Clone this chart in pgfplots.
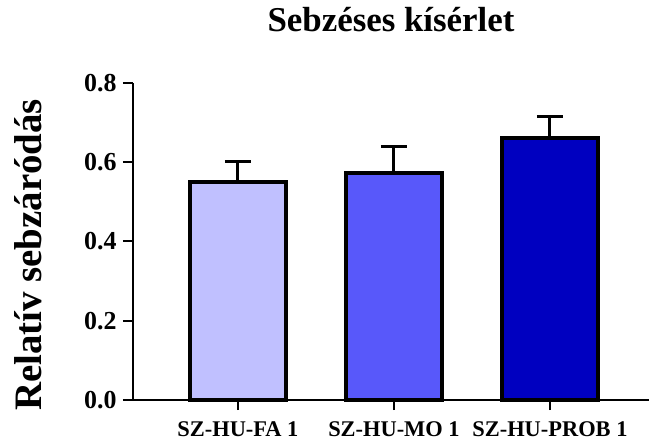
\documentclass[border=0pt]{standalone}
\usepackage{fontspec}
\setmainfont{Liberation Serif}
\usepackage{pgfplots}
\pgfplotsset{compat=1.18}

\definecolor{barlight}{RGB}{192,192,255}
\definecolor{barmid}{RGB}{88,88,250}
\definecolor{bardark}{RGB}{0,0,192}

\begin{document}
\begin{tikzpicture}
\begin{axis}[
    scale only axis,
    width=516bp, height=317.3bp,
    xmin=-0.673, xmax=2.635,
    ymin=0, ymax=0.8,
    axis lines*=left,
    axis line style={line width=2bp, black},
    tick align=outside,
    major tick length=10bp,
    tick style={line width=2bp, black},
    xtick={0,1,2},
    xticklabels={SZ-HU-FA 1, SZ-HU-MO 1, SZ-HU-PROB 1},
    ytick={0,0.2,0.4,0.6,0.8},
    yticklabels={0.0,0.2,0.4,0.6,0.8},
    xticklabel style={font=\fontsize{22.5}{24}\selectfont\bfseries, anchor=base, yshift=-26bp},
    yticklabel style={font=\fontsize{26}{28}\selectfont\bfseries, xshift=-3bp},
    title={Sebzéses kísérlet},
    title style={font=\fontsize{35}{40}\selectfont\bfseries, at={(axis description cs:0.5,1)}, anchor=base, yshift=45bp},
    ylabel={Relatív sebzáródás},
    ylabel style={font=\fontsize{39}{42}\selectfont\bfseries, at={(axis description cs:-0.2035,0.457)}, anchor=center},
    clip=false,
]
\addplot[ybar, bar width=0.615, bar shift=0, fill=barlight, draw=black, line width=4bp,
    error bars/.cd, y dir=plus, y explicit,
    error bar style={line width=3bp, black},
    error mark options={rotate=90, line width=3bp, mark size=13bp, black}]
    coordinates {(0,0.550) +- (0,0.052)};
\addplot[ybar, bar width=0.615, bar shift=0, fill=barmid, draw=black, line width=4bp,
    error bars/.cd, y dir=plus, y explicit,
    error bar style={line width=3bp, black},
    error mark options={rotate=90, line width=3bp, mark size=13bp, black}]
    coordinates {(1,0.573) +- (0,0.066)};
\addplot[ybar, bar width=0.615, bar shift=0, fill=bardark, draw=black, line width=4bp,
    error bars/.cd, y dir=plus, y explicit,
    error bar style={line width=3bp, black},
    error mark options={rotate=90, line width=3bp, mark size=13bp, black}]
    coordinates {(2,0.660) +- (0,0.056)};
\end{axis}
\pgfresetboundingbox
\path[use as bounding box] (-133bp,-41bp) rectangle (516bp,400bp);
\end{tikzpicture}
\end{document}
